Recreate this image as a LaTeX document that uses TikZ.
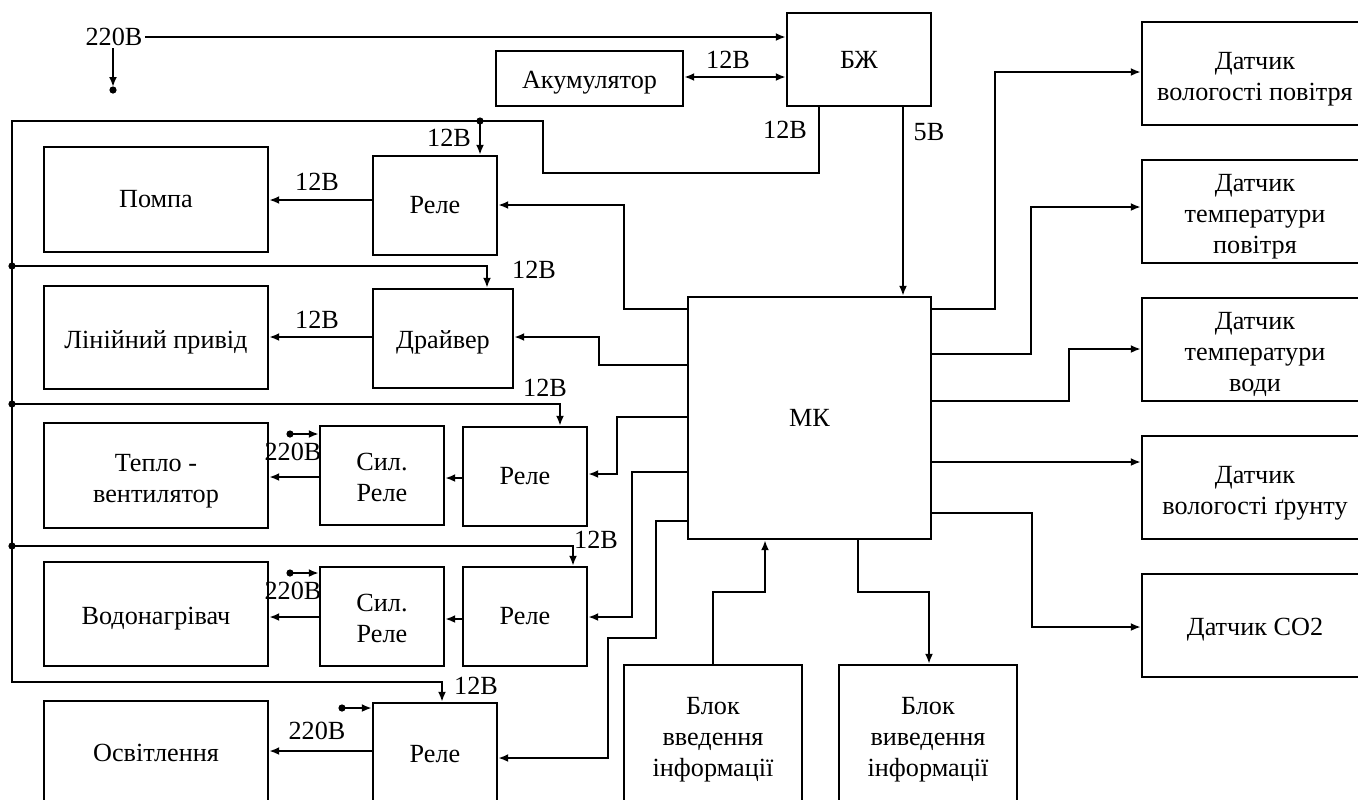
\documentclass[tikz,border=0pt]{standalone}
\usepackage{fontspec}
\setmainfont{Liberation Serif}
\usetikzlibrary{arrows.meta,calc}
\newcommand{\bt}[2][-2pt]{\raisebox{#1}[\height][\depth]{\begin{tabular}{@{}c@{}}#2\end{tabular}}}
\begin{document}
\begin{tikzpicture}[x=0.5pt,y=-0.5pt,
  every node/.style={font=\fontsize{13.1}{15.6}\selectfont},
  box/.style={draw,line width=1.2pt,inner sep=0pt},
  lbl/.style={inner sep=1pt},
  wire/.style={line width=1.2pt},
  arr/.style={wire,-{Latex[length=5pt,width=4pt]}},
  darr/.style={wire,{Latex[length=5pt,width=4pt]}-{Latex[length=5pt,width=4pt]}}]
\path[use as bounding box] (0,0) rectangle (1358,799);
\clip (0,0) rectangle (1358,799);
% boxes
\node[box,minimum width=72pt,minimum height=46.5pt] (bzh) at (859,59.5) {БЖ};
\node[box,minimum width=93.5pt,minimum height=27.5pt] (akum) at (589.5,78.5) {\bt{Акумулятор}};
\node[box,minimum width=121.5pt,minimum height=121pt] (mk) at (809.5,418) {МК};
\node[box,minimum width=112pt,minimum height=52.5pt] (pompa) at (156,199.5) {\bt[-1pt]{Помпа}};
\node[box,minimum width=112pt,minimum height=51.5pt] (linpr) at (156,337.5) {\bt[-2.5pt]{Лінійний привід}};
\node[box,minimum width=112pt,minimum height=52.5pt] (teplo) at (156,475.5) {\bt[-2.5pt]{Тепло -\\вентилятор}};
\node[box,minimum width=112pt,minimum height=52pt] (vodon) at (156,614) {\bt{Водонагрівач}};
\node[box,minimum width=112pt,minimum height=52pt] (osvit) at (156,753) {Освітлення};
\node[box,minimum width=62pt,minimum height=49.5pt] (rele1) at (435,205.5) {Реле};
\node[box,minimum width=70pt,minimum height=49.5pt] (drv) at (443,338.5) {\bt{Драйвер}};
\node[box,minimum width=62pt,minimum height=49.5pt] (silr1) at (382,475.5) {\bt{Сил.\\Реле}};
\node[box,minimum width=62pt,minimum height=49.5pt] (rele3) at (525,476.5) {Реле};
\node[box,minimum width=62pt,minimum height=49.5pt] (silr2) at (382,616.5) {\bt{Сил.\\Реле}};
\node[box,minimum width=62pt,minimum height=49.5pt] (rele4) at (525,616.5) {Реле};
\node[box,minimum width=62pt,minimum height=51pt] (rele5) at (435,754) {Реле};
\node[box,minimum width=89pt,minimum height=71pt] (bvv) at (713,736) {\bt[-1.5pt]{Блок\\введення\\інформації}};
\node[box,minimum width=89pt,minimum height=71pt] (bviv) at (928,736) {\bt[-1.5pt]{Блок\\виведення\\інформації}};
\node[box,minimum width=113pt,minimum height=51.5pt] (s1) at (1255,73.5) {\bt[-2.5pt]{Датчик\\вологості повітря}};
\node[box,minimum width=113pt,minimum height=51.5pt] (s2) at (1255,211.5) {\bt[-2.5pt]{Датчик\\температури\\повітря}};
\node[box,minimum width=113pt,minimum height=51.5pt] (s3) at (1255,349.5) {\bt[-2.5pt]{Датчик\\температури\\води}};
\node[box,minimum width=113pt,minimum height=51.5pt] (s4) at (1255,487.5) {\bt[-2.5pt]{Датчик\\вологості ґрунту}};
\node[box,minimum width=113pt,minimum height=51.5pt] (s5) at (1255,625.5) {\bt{Датчик СО2}};
% labels
\node[lbl] (v220) at (114,37) {220В};
\node[lbl] (lak) at (728,60) {12В};
\node[lbl] (lbz12) at (785,130) {12В};
\node[lbl] (lbz5) at (929,132) {5В};
\node[lbl] (lr1) at (449,138) {12В};
\node[lbl] (ldrv) at (534,270) {12В};
\node[lbl] (lr3) at (545,388) {12В};
\node[lbl] (lr4) at (596,540) {12В};
\node[lbl] (lr5) at (476,686) {12В};
\node[lbl] (lpo) at (317,182) {12В};
\node[lbl] (lli) at (317,320) {12В};
\node[lbl] (lte) at (293,452) {220В};
\node[lbl] (lvo) at (293,591) {220В};
\node[lbl] (los) at (317,731) {220В};
% coordinates
\coordinate (d220) at (113,90);
\coordinate (dr1) at (480,121);
\coordinate (dbus1) at (12,266);
\coordinate (dbus2) at (12,404);
\coordinate (dbus3) at (12,546);
\coordinate (ds1) at (290,434);
\coordinate (ds2) at (290,573);
\coordinate (ds5) at (342,708);
% 220V
\draw[arr] (v220.east) -- (bzh.west |- v220.east);
\draw[arr,shorten >=1.5pt] (v220.south -| d220) -- (d220);
\fill (d220) circle (1.8pt);
% accumulator
\draw[darr] (akum.east |- 0,77) -- (bzh.west |- 0,77);
% 12V bus
\draw[arr] (819,0 |- bzh.south) -- (819,173) -- (543,173) -- (543,121) -- (12,121) -- (12,682) -- (442,682) -- (442,0 |- rele5.north);
\draw[arr] (dr1) -- (dr1 |- rele1.north);
\draw[arr] (dbus1) -- (487,266) -- (487,0 |- drv.north);
\draw[arr] (dbus2) -- (560,404) -- (560,0 |- rele3.north);
\draw[arr] (dbus3) -- (573,546) -- (573,0 |- rele4.north);
\foreach \p in {dr1,dbus1,dbus2,dbus3} \fill (\p) circle (1.8pt);
% 5V
\draw[arr] (903,0 |- bzh.south) -- (903,0 |- mk.north);
% relay outputs
\draw[arr] (rele1.west |- 0,200) -- (pompa.east |- 0,200);
\draw[arr] (drv.west |- 0,337) -- (linpr.east |- 0,337);
\draw[arr] (silr1.west |- 0,477) -- (teplo.east |- 0,477);
\draw[arr] (rele3.west |- 0,478) -- (silr1.east |- 0,478);
\draw[arr] (silr2.west |- 0,617) -- (vodon.east |- 0,617);
\draw[arr] (rele4.west |- 0,619) -- (silr2.east |- 0,619);
\draw[arr] (rele5.west |- 0,751) -- (osvit.east |- 0,751);
% 220V inputs
\draw[arr] (ds1) -- (silr1.west |- ds1);
\draw[arr] (ds2) -- (silr2.west |- ds2);
\draw[arr] (ds5) -- (rele5.west |- ds5);
\foreach \p in {ds1,ds2,ds5} \fill (\p) circle (1.8pt);
% MK left
\draw[arr] (mk.west |- 0,309) -| (624,205) -- (rele1.east |- 0,205);
\draw[arr] (mk.west |- 0,365) -| (599,337) -- (drv.east |- 0,337);
\draw[arr] (mk.west |- 0,417) -| (617,474) -- (rele3.east |- 0,474);
\draw[arr] (mk.west |- 0,472) -| (632,617) -- (rele4.east |- 0,617);
\draw[arr] (mk.west |- 0,521) -| (656,638) -| (608,758) -- (rele5.east |- 0,758);
% MK bottom
\draw[arr] (713,0 |- bvv.north) |- (765,592) -- (765,0 |- mk.south);
\draw[arr] (858,0 |- mk.south) |- (929,592) -- (929,0 |- bviv.north);
% MK right
\draw[arr] (mk.east |- 0,309) -| (995,72) -- (s1.west |- 0,72);
\draw[arr] (mk.east |- 0,354) -| (1031,207) -- (s2.west |- 0,207);
\draw[arr] (mk.east |- 0,401) -| (1069,349) -- (s3.west |- 0,349);
\draw[arr] (mk.east |- 0,462) -- (s4.west |- 0,462);
\draw[arr] (mk.east |- 0,513) -| (1032,627) -- (s5.west |- 0,627);
\end{tikzpicture}
\end{document}
